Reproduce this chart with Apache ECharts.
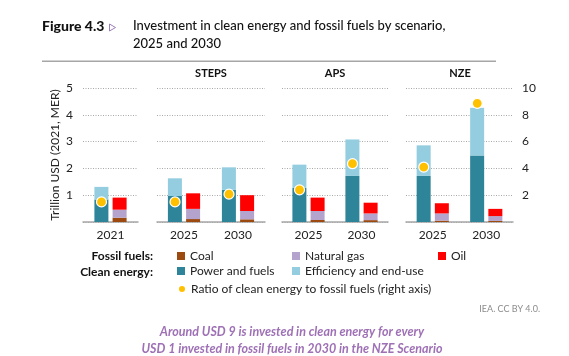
<!DOCTYPE html>
<html><head><meta charset="utf-8">
<script src="https://cdn.jsdelivr.net/npm/echarts@6/dist/echarts.min.js"></script>
<style>html,body{margin:0;padding:0;background:#fff}#c{width:569px;height:356px}</style>
</head><body><div id="c"></div>
<script>
// ---- data ----
const categories = ['2021', '2025', '2030', '2025', '2030', '2025', '2030'];
const panelOf = [0, 1, 1, 2, 2, 3, 3];
const panelNames = ['', 'STEPS', 'APS', 'NZE'];
const powerFuels = [0.84, 0.97, 1.20, 1.27, 1.72, 1.72, 2.48];
const efficiency = [0.47, 0.66, 0.84, 0.87, 1.36, 1.14, 1.78];
const coal = [0.16, 0.11, 0.10, 0.075, 0.07, 0.05, 0.04];
const naturalGas = [0.30, 0.38, 0.31, 0.335, 0.25, 0.27, 0.18];
const oil = [0.45, 0.58, 0.59, 0.50, 0.40, 0.38, 0.27];
const ratio = [1.5, 1.5, 2.08, 2.4, 4.35, 4.1, 8.86];
const leftMax = 5, rightMax = 10;

// ---- layout/style ----
const FONT = 'Lato, "Liberation Sans", sans-serif';
const gridLefts = [83, 157, 282, 406];
const gridWidths = [55, 108, 106, 107];
const C = { power: '#2e8499', eff: '#93cddf', coal: '#9c4a10', gas: '#b4a3cc', oil: '#ff0000', ratio: '#ffc000' };

const grids = [], xAxes = [], yAxes = [], series = [];
const pick = (arr, p) => arr.filter((_, i) => panelOf[i] === p);

for (let p = 0; p < 4; p++) {
  grids.push({ left: gridLefts[p], width: gridWidths[p], top: 88, bottom: 134 });
  xAxes.push({
    type: 'category', gridIndex: p, data: pick(categories, p),
    axisTick: { show: false },
    axisLine: { lineStyle: { color: '#a6a6a6', width: 1.5 } },
    axisLabel: { color: '#222', fontFamily: FONT, fontSize: 12, margin: 7 }
  });
  yAxes.push({
    type: 'value', gridIndex: p, min: 0, max: leftMax, interval: 1,
    axisLine: { show: false }, axisTick: { show: false },
    splitLine: { show: true, lineStyle: { color: '#a8a8a8', type: [1, 1.5], width: 1 } },
    axisLabel: { show: p === 0, color: '#222', fontFamily: FONT, fontSize: 12, margin: 10,
      formatter: v => v === 0 ? '' : v },
    name: p === 0 ? 'Trillion USD (2021, MER)' : '', nameLocation: 'middle', nameGap: 22,
    nameTextStyle: { color: '#222', fontFamily: FONT, fontSize: 12 }
  });
  yAxes.push({
    type: 'value', gridIndex: p, position: 'right', min: 0, max: rightMax, interval: 2,
    axisLine: { show: false }, axisTick: { show: false }, splitLine: { show: false },
    axisLabel: { show: p === 3, color: '#222', fontFamily: FONT, fontSize: 12, margin: 9,
      formatter: v => v === 0 ? '' : v }
  });
  const xi = p, yl = 2 * p, yr = 2 * p + 1;
  const barBase = { type: 'bar', xAxisIndex: xi, yAxisIndex: yl, barWidth: 14, barGap: '30%' };
  series.push(Object.assign({}, barBase, { name: 'Power and fuels', stack: 'clean' + p, data: pick(powerFuels, p), itemStyle: { color: C.power } }));
  series.push(Object.assign({}, barBase, { name: 'Efficiency and end-use', stack: 'clean' + p, data: pick(efficiency, p), itemStyle: { color: C.eff } }));
  series.push(Object.assign({}, barBase, { name: 'Coal', stack: 'fossil' + p, data: pick(coal, p), itemStyle: { color: C.coal } }));
  series.push(Object.assign({}, barBase, { name: 'Natural gas', stack: 'fossil' + p, data: pick(naturalGas, p), itemStyle: { color: C.gas } }));
  series.push(Object.assign({}, barBase, { name: 'Oil', stack: 'fossil' + p, data: pick(oil, p), itemStyle: { color: C.oil } }));
  series.push({
    type: 'scatter', name: 'Ratio of clean energy to fossil fuels (right axis)',
    xAxisIndex: xi, yAxisIndex: yr, data: pick(ratio, p), symbolSize: 10, symbolOffset: [-9, 0], z: 5,
    itemStyle: { color: C.ratio, borderColor: '#fff', borderWidth: 1.2, opacity: 1 }
  });
}

const legendText = { color: '#222', fontFamily: FONT, fontSize: 12 };
const legendBase = { orient: 'vertical', itemWidth: 8, itemHeight: 8, itemGap: 3, selectedMode: false, icon: 'rect', textStyle: legendText, padding: 0 };
const legends = [
  Object.assign({}, legendBase, { left: 177, top: 250, data: ['Coal', 'Power and fuels'] }),
  Object.assign({}, legendBase, { left: 292, top: 250, data: ['Natural gas', 'Efficiency and end-use'] }),
  Object.assign({}, legendBase, { left: 438, top: 250, data: ['Oil'] }),
  Object.assign({}, legendBase, { left: 177, top: 283, icon: 'circle', data: ['Ratio of clean energy to fossil fuels (right axis)'] })
];

const titleFont = 'Lato, "Liberation Sans", sans-serif';
const option = {
  animation: false,
  backgroundColor: '#fff',
  grid: grids, xAxis: xAxes, yAxis: yAxes, series: series, legend: legends,
  graphic: [
    { type: 'text', left: 42, top: 19, style: { text: 'Figure 4.3', font: '900 14px ' + titleFont, fill: '#111' } },
    { type: 'polygon', shape: { points: [[109.5, 24], [115.5, 27.5], [109.5, 31]] }, style: { fill: '#fff', stroke: '#9b7fb8', lineWidth: 1 } },
    { type: 'text', left: 133, top: 19, style: { text: 'Investment in clean energy and fossil fuels by scenario,', font: '500 13px ' + titleFont, fill: '#111' } },
    { type: 'text', left: 133, top: 37, style: { text: '2025 and 2030', font: '500 13px ' + titleFont, fill: '#111' } },
    { type: 'rect', shape: { x: 42, y: 60.5, width: 454, height: 1.5 }, style: { fill: '#a6a6a6' } },
    { type: 'text', x: 211, y: 73, style: { text: panelNames[1], font: 'bold 11px ' + FONT, fill: '#111', align: 'center', verticalAlign: 'middle' } },
    { type: 'text', x: 335, y: 73, style: { text: panelNames[2], font: 'bold 11px ' + FONT, fill: '#111', align: 'center', verticalAlign: 'middle' } },
    { type: 'text', x: 460, y: 73, style: { text: panelNames[3], font: 'bold 11px ' + FONT, fill: '#111', align: 'center', verticalAlign: 'middle' } },
    { type: 'text', x: 153, y: 256, style: { text: 'Fossil fuels:', font: 'bold 12px ' + FONT, fill: '#111', align: 'right', verticalAlign: 'middle' } },
    { type: 'text', x: 153, y: 272, style: { text: 'Clean energy:', font: 'bold 12px ' + FONT, fill: '#111', align: 'right', verticalAlign: 'middle' } },
    { type: 'text', x: 540, y: 309, style: { text: 'IEA. CC BY 4.0.', font: '9px ' + FONT, fill: '#8c8c8c', align: 'right', verticalAlign: 'middle' } },
    { type: 'text', x: 292, y: 332, style: { text: 'Around USD 9 is invested in clean energy for every', font: 'italic bold 12.5px ' + titleFont, fill: '#9e70b5', align: 'center', verticalAlign: 'middle' } },
    { type: 'text', x: 292, y: 349, style: { text: 'USD 1 invested in fossil fuels in 2030 in the NZE Scenario', font: 'italic bold 12.5px ' + titleFont, fill: '#9e70b5', align: 'center', verticalAlign: 'middle' } }
  ]
};
const chart = echarts.init(document.getElementById('c'), null, { renderer: 'canvas' });
chart.setOption(option);
</script></body></html>
